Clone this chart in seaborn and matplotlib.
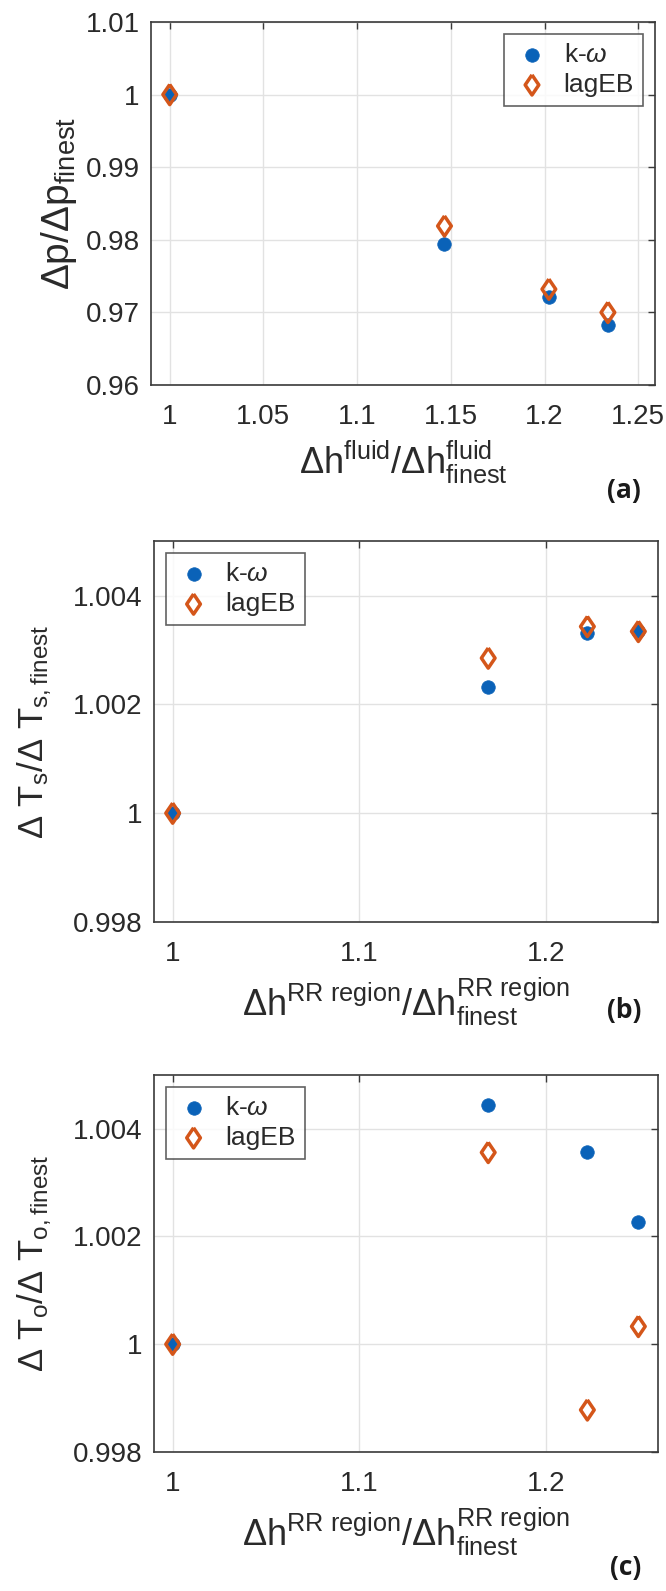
import numpy as np
import matplotlib
matplotlib.use("Agg")
import matplotlib.pyplot as plt
import seaborn as sns
from matplotlib.ticker import FuncFormatter

# Data
# (a) pressure drop vs fluid grid ratio
xa = [1.0, 1.1466, 1.2023, 1.2338]
kw_a = [1.0, 0.9794, 0.9721, 0.9682]
lag_a = [1.0, 0.9819, 0.9732, 0.9700]

# (b) solid temperature rise vs RR-region grid ratio
xb = [1.0, 1.169, 1.2221, 1.2494]
kw_b = [1.0, 1.00231, 1.00331, 1.00334]
lag_b = [1.0, 1.00285, 1.00343, 1.00334]

# (c) outlet temperature rise vs RR-region grid ratio
xc = [1.0, 1.169, 1.2221, 1.2494]
kw_c = [1.0, 1.00445, 1.00356, 1.00226]
lag_c = [1.0, 1.00356, 0.99878, 1.00033]

xticks_a = [1, 1.05, 1.1, 1.15, 1.2, 1.25]
yticks_a = [0.96, 0.97, 0.98, 0.99, 1.0, 1.01]
xticks_bc = [1, 1.1, 1.2]
yticks_bc = [0.998, 1.0, 1.002, 1.004]

series_names = ["k-$\\omega$", "lagEB"]

BLUE = "#0a62b8"
ORANGE = "#d4561a"

sns.set_style("white")
plt.rcParams["font.family"] = ["Liberation Sans", "DejaVu Sans"]
plt.rcParams["mathtext.fontset"] = "custom"
plt.rcParams["mathtext.rm"] = "Liberation Sans"
plt.rcParams["mathtext.it"] = "Liberation Sans:italic"
plt.rcParams["mathtext.bf"] = "Liberation Sans:bold"

diamond = [(0, 1), (0.68, 0), (0, -1), (-0.68, 0), (0, 1)]

fig = plt.figure(figsize=(6.66, 15.91), dpi=100)

ax_a = fig.add_axes([0.2267, 0.758, 0.757, 0.2282])
ax_b = fig.add_axes([0.2312, 0.4205, 0.757, 0.2394])
ax_c = fig.add_axes([0.2312, 0.0874, 0.757, 0.237])


def fmt(v, pos):
    return f"{v:g}"


def draw_panel(ax, x, kw, lag, xlim, ylim, xticks, yticks, xlabel, ylabel,
               legend_loc, ylabelsize, ylabelpad):
    sns.scatterplot(x=x, y=kw, ax=ax, color=BLUE, marker="o", s=95,
                    edgecolor=BLUE, linewidth=0.5, label=series_names[0], zorder=3)
    sns.scatterplot(x=x, y=lag, ax=ax, marker=diamond, s=210,
                    facecolor="none", edgecolor=ORANGE, linewidth=2.5,
                    label=series_names[1], zorder=4)
    ax.set_xlim(*xlim)
    ax.set_ylim(*ylim)
    ax.set_xticks(xticks)
    ax.set_yticks(yticks)
    ax.xaxis.set_major_formatter(FuncFormatter(fmt))
    ax.yaxis.set_major_formatter(FuncFormatter(fmt))
    ax.grid(True, color="#e2e2e2", linewidth=1.0)
    ax.set_axisbelow(True)
    for sp in ax.spines.values():
        sp.set_color("#3a3a3a")
        sp.set_linewidth(1.2)
    ax.tick_params(direction="in", length=5, width=1, colors="#3a3a3a",
                   top=True, right=True, labelsize=20, labelcolor="#2a2a2a", pad=8)
    ax.tick_params(axis="x", pad=14)
    ax.set_xlabel(xlabel, fontsize=26, color="#2a2a2a", labelpad=6)
    ax.set_ylabel(ylabel, fontsize=ylabelsize, color="#2a2a2a", labelpad=ylabelpad)
    leg = ax.legend(loc=legend_loc, fontsize=19, frameon=True, fancybox=False,
                    handletextpad=0.5, borderpad=0.35, labelspacing=0.22,
                    handlelength=1.4, borderaxespad=0.45)
    leg.get_frame().set_edgecolor("#3a3a3a")
    leg.get_frame().set_linewidth(1.2)
    for t in leg.get_texts():
        t.set_color("#2a2a2a")


draw_panel(ax_a, xa, kw_a, lag_a, (0.99, 1.259), (0.96, 1.01), xticks_a, yticks_a,
           r"$\Delta \mathrm{h}^{\mathrm{fluid}}/\Delta \mathrm{h}^{\mathrm{fluid}}_{\mathrm{finest}}$",
           r"$\Delta \mathrm{p}/\Delta \mathrm{p}_{\mathrm{finest}}$",
           "upper right", 28, 5)

rr_label = r"$\Delta \mathrm{h}^{\mathrm{RR\ region}}/\Delta \mathrm{h}^{\mathrm{RR\ region}}_{\mathrm{finest}}$"

draw_panel(ax_b, xb, kw_b, lag_b, (0.99, 1.26), (0.998, 1.005), xticks_bc, yticks_bc,
           rr_label,
           r"$\Delta\ \mathrm{T}_{\mathrm{s}}/\Delta\ \mathrm{T}_{\mathrm{s,finest}}$",
           "upper left", 25, 14)

draw_panel(ax_c, xc, kw_c, lag_c, (0.99, 1.26), (0.998, 1.005), xticks_bc, yticks_bc,
           rr_label,
           r"$\Delta\ \mathrm{T}_{\mathrm{o}}/\Delta\ \mathrm{T}_{\mathrm{o,finest}}$",
           "upper left", 25, 14)

fig.text(0.936, 0.692, "(a)", fontsize=19, fontweight="bold", ha="center", va="center",
         family=["Open Sans", "DejaVu Sans"], color="#1a1a1a")
fig.text(0.937, 0.365, "(b)", fontsize=19, fontweight="bold", ha="center", va="center",
         family=["Open Sans", "DejaVu Sans"], color="#1a1a1a")
fig.text(0.940, 0.0145, "(c)", fontsize=19, fontweight="bold", ha="center", va="center",
         family=["Open Sans", "DejaVu Sans"], color="#1a1a1a")

fig.savefig("out.png", dpi=100)
